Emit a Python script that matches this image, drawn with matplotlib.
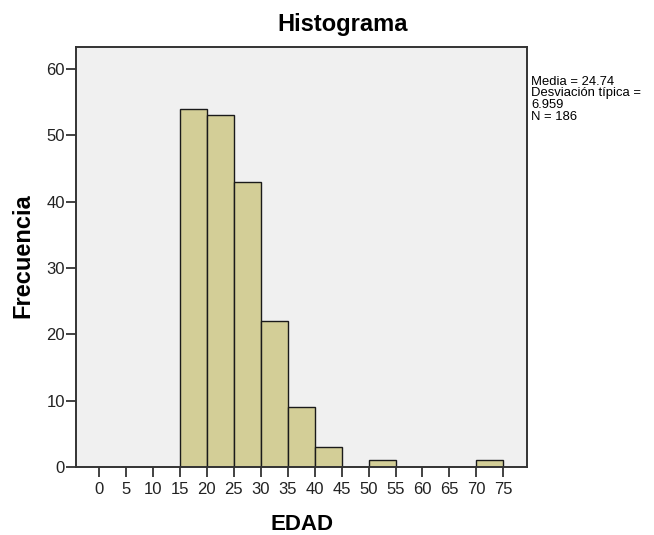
import matplotlib
matplotlib.use("Agg")
import matplotlib.pyplot as plt
import numpy as np

bin_edges = [15, 20, 25, 30, 35, 40, 45, 50, 55, 60, 65, 70, 75]
counts = [54, 53, 43, 22, 9, 3, 0, 1, 0, 0, 0, 1]
x_ticks = [0, 5, 10, 15, 20, 25, 30, 35, 40, 45, 50, 55, 60, 65, 70, 75]
y_ticks = [0, 10, 20, 30, 40, 50, 60]
stats_lines = ["Media = 24.74", "Desviación típica =", "6.959", "N = 186"]

plt.rcParams['font.family'] = ['Liberation Sans', 'DejaVu Sans']

W, H = 654, 535
fig = plt.figure(figsize=(6.54, 5.35), dpi=100)
ax = fig.add_axes([76 / W, 1 - 467 / H, 451 / W, 420 / H])
ax.set_facecolor('#F0F0F0')

lefts = bin_edges[:-1]
widths = np.diff(bin_edges)
ax.bar(lefts, counts, width=widths, align='edge', color='#D3CE97',
       edgecolor='#1a1a1a', linewidth=1.0)

ax.set_xlim(-4.3, 79.4)
ax.set_ylim(0, 63.3)
ax.set_xticks(x_ticks)
ax.set_yticks(y_ticks)
ax.tick_params(axis='both', direction='out', length=7, width=1.3, color='#333333',
               labelsize=12, labelcolor='#222222')
ax.tick_params(axis='x', pad=4)
ax.tick_params(axis='y', pad=1)
for s in ax.spines.values():
    s.set_linewidth(1.4)
    s.set_color('#333333')

fig.text(342.5 / W, 1 - 25 / H, 'Histograma', fontsize=17, fontweight='bold',
         ha='center', va='center')
fig.text(302 / W, 1 - 524 / H, 'EDAD', fontsize=16, fontweight='bold',
         ha='center', va='center')
fig.text(23 / W, 1 - 256 / H, 'Frecuencia', fontsize=17, fontweight='bold',
         ha='center', va='center', rotation=90)

fig.text(531 / W, 1 - 120 / H, "\n".join(stats_lines), fontsize=9.4,
         va='baseline', ha='left', linespacing=0.98)

fig.savefig('out.png', dpi=100)
